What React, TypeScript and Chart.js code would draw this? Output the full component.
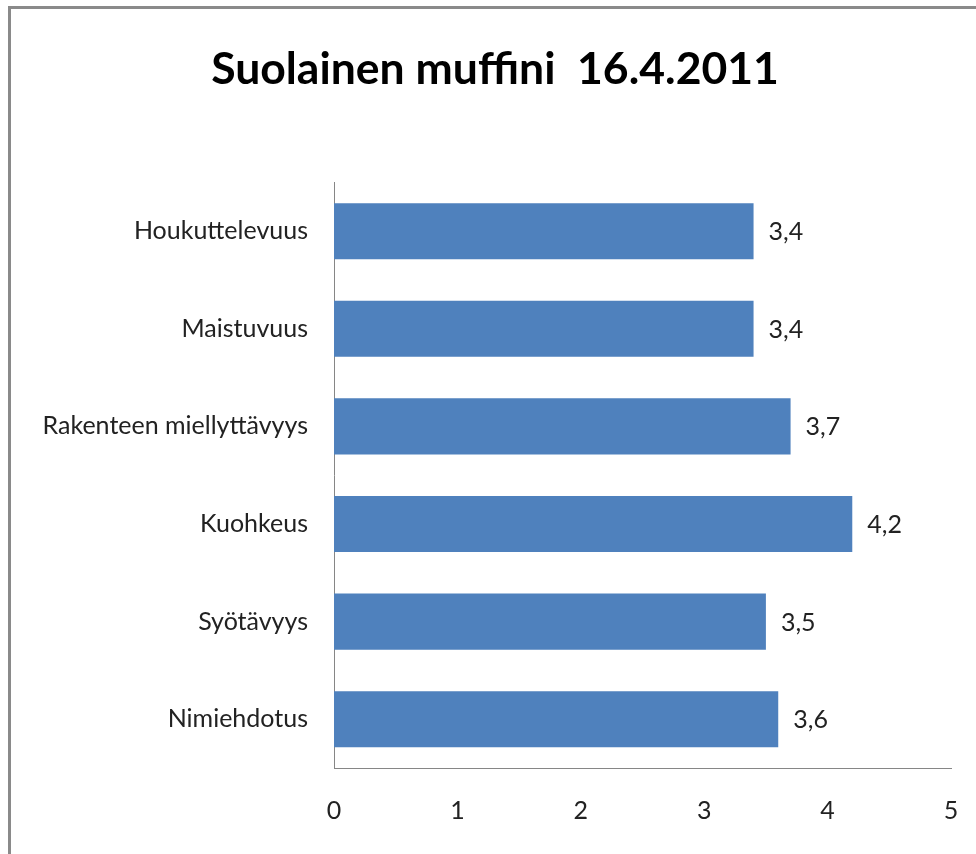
import React, { useEffect, useRef } from "react";
import { Chart, registerables } from "chart.js";

Chart.register(...registerables);

const titleText = "Suolainen muffini  16.4.2011";
const categories = [
  "Houkuttelevuus",
  "Maistuvuus",
  "Rakenteen miellyttävyys",
  "Kuohkeus",
  "Syötävyys",
  "Nimiehdotus",
];
const scores = [3.4, 3.4, 3.7, 4.2, 3.5, 3.6];
const xTicks = [0, 1, 2, 3, 4, 5];

const FONT = "Lato, 'Open Sans', sans-serif";
const LABEL_SIZE = 25;

const valueLabels = {
  id: "valueLabels",
  afterDatasetsDraw(chart: any) {
    const ctx = chart.ctx;
    const meta = chart.getDatasetMeta(0);
    ctx.save();
    ctx.font = `${LABEL_SIZE}px ${FONT}`;
    ctx.fillStyle = "#222";
    ctx.textAlign = "left";
    ctx.textBaseline = "middle";
    meta.data.forEach((bar: any, i: number) => {
      const v = chart.data.datasets[0].data[i] as number;
      ctx.fillText(v.toFixed(1).replace(".", ","), bar.x + 15, bar.y + 1);
    });
    ctx.restore();
  },
};

export default function App() {
  const ref = useRef<HTMLCanvasElement>(null);
  useEffect(() => {
    if (!ref.current) return;
    const chart = new Chart(ref.current, {
      type: "bar",
      data: {
        labels: categories,
        datasets: [
          {
            data: scores,
            backgroundColor: "#4F81BD",
            borderWidth: 0,
            categoryPercentage: 1,
            barPercentage: 0.575,
          },
        ],
      },
      options: {
        indexAxis: "y",
        animation: false,
        responsive: false,
        maintainAspectRatio: false,
        layout: { padding: { left: 39, right: 25, top: 43, bottom: 0 } },
        plugins: {
          legend: { display: false },
          tooltip: { enabled: false },
          title: {
            display: true,
            text: titleText,
            color: "#000",
            font: { family: FONT, size: 44.5, weight: "bold" },
            padding: { top: 0, bottom: 86 },
          },
        },
        scales: {
          x: {
            min: 0,
            max: 5,
            afterBuildTicks: (s: any) => {
              s.ticks = xTicks.map((v) => ({ value: v }));
            },
            afterFit: (s: any) => {
              s.height = 86;
              s.paddingLeft = 0;
              s.paddingRight = 0;
            },
            grid: { display: false, drawTicks: false },
            border: { display: true, color: "#868686", width: 1 },
            ticks: {
              color: "#222",
              padding: 28,
              font: { family: FONT, size: LABEL_SIZE },
              maxRotation: 0,
            },
          },
          y: {
            afterFit: (s: any) => {
              s.width = 295;
            },
            grid: { display: false, drawTicks: false },
            border: { display: true, color: "#868686", width: 1 },
            ticks: {
              color: "#222",
              padding: 26,
              font: { family: FONT, size: LABEL_SIZE },
            },
          },
        },
      },
      plugins: [valueLabels],
    });
    return () => chart.destroy();
  }, []);

  return (
    <div
      style={{
        position: "fixed",
        left: 0,
        top: 0,
        width: 976,
        height: 854,
        background: "#fff",
        overflow: "hidden",
      }}
    >
      <div
        style={{
          position: "absolute",
          left: 8,
          top: 6,
          width: 1000,
          height: 900,
          borderTop: "3px solid #8a8a8a",
          borderLeft: "3px solid #8a8a8a",
          boxSizing: "border-box",
        }}
      />
      <canvas
        ref={ref}
        width={976}
        height={854}
        style={{ position: "absolute", left: 0, top: 0, width: 976, height: 854 }}
      />
    </div>
  );
}
